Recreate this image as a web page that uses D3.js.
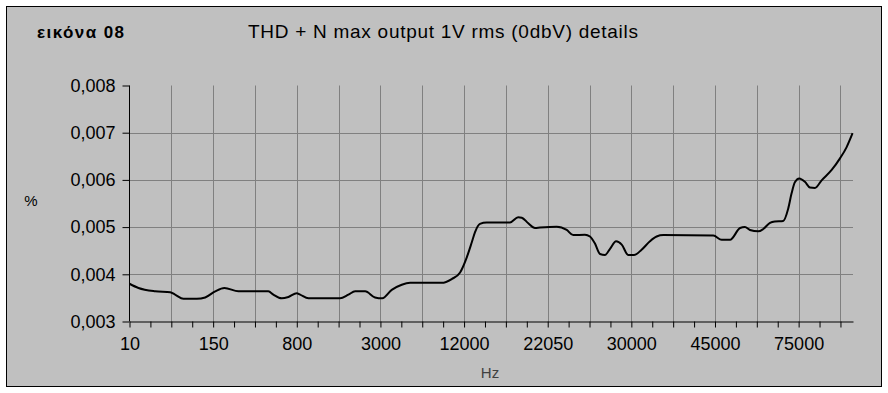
<!DOCTYPE html>
<html>
<head>
<meta charset="utf-8">
<script src="https://cdn.jsdelivr.net/npm/d3@7"></script>
<style>
  body { margin: 0; background: #fff; }
  svg { display: block; font-family: Arial, 'Liberation Sans', sans-serif; }
</style>
</head>
<body>
<svg width="888" height="393"></svg>
<script>
// position along the category axis, in tick units (ticks 0..34)
var xPos = [0, 0.43, 1.23, 1.95, 2.18, 2.58, 3.22, 3.62, 4.10, 4.54, 5.21, 6.64, 6.88, 7.28, 7.60, 8.00,
  8.16, 8.56, 10.07, 10.47, 10.79, 11.27, 11.74, 12.09, 12.54, 13.02, 13.42, 14.93, 15.41, 15.81, 16.13,
  16.37, 16.52, 16.76, 17.08, 18.20, 18.59, 18.76, 19.07, 19.39, 19.63, 20.43, 20.91, 21.22, 21.78, 22.02,
  22.26, 22.50, 22.74, 22.98, 23.27, 23.54, 23.85, 24.13, 24.49, 24.89, 25.21, 25.53, 27.92, 28.32, 28.72,
  29.20, 29.43, 29.67, 30.07, 30.31, 30.63, 30.86, 31.26, 31.50, 31.66, 31.82, 32.03, 32.30, 32.54, 32.78,
  33.10, 33.58, 33.97, 34.29, 34.58];

// THD+N in %
var thd = [0.0038, 0.00371, 0.00364, 0.00362, 0.00357, 0.00348, 0.00348, 0.00351, 0.00364, 0.00371, 0.00364,
  0.00364, 0.00357, 0.00349, 0.00352, 0.0036, 0.00357, 0.00349, 0.00349, 0.00357, 0.00364, 0.00364, 0.00351,
  0.00349, 0.00367, 0.00378, 0.00382, 0.00382, 0.0039, 0.00404, 0.00436, 0.00468, 0.00489, 0.00507, 0.0051,
  0.0051, 0.00521, 0.0052, 0.00508, 0.00498, 0.00499, 0.00501, 0.00494, 0.00483, 0.00484, 0.0048, 0.00465,
  0.00443, 0.00441, 0.00454, 0.0047, 0.00463, 0.00441, 0.00441, 0.00452, 0.0047, 0.0048, 0.00483, 0.00482,
  0.00473, 0.00473, 0.00498, 0.005, 0.00494, 0.00491, 0.00496, 0.00509, 0.00512, 0.00513, 0.00539, 0.00571,
  0.00595, 0.00603, 0.00596, 0.00584, 0.00583, 0.00599, 0.00621, 0.00645, 0.00669, 0.00699];

var xLabels = ['10', '150', '800', '3000', '12000', '22050', '30000', '45000', '75000'];
var yTicks = [0.003, 0.004, 0.005, 0.006, 0.007, 0.008];

var data = xPos.map((p, i) => ({ p: p, v: thd[i] }));

var svg = d3.select('svg');

// chart area
svg.append('rect')
  .attr('x', 6.5).attr('y', 6.5)
  .attr('width', 875).attr('height', 380)
  .attr('fill', '#c0c0c0')
  .attr('stroke', '#000');

var x = d3.scaleLinear().domain([0, 34.6]).range([129.5, 853]);
var y = d3.scaleLinear().domain([0.003, 0.008]).range([321.5, 85.5]);

var tickIdx = d3.range(0, 35);

// gridlines
svg.append('g').selectAll('line')
  .data(tickIdx.filter(t => t > 0 && t % 2 == 0))
  .enter().append('line')
  .attr('x1', d => Math.round(x(d)) + 0.5).attr('x2', d => Math.round(x(d)) + 0.5)
  .attr('y1', y(0.008)).attr('y2', y(0.003))
  .attr('stroke', '#808080');

svg.append('g').selectAll('line')
  .data(yTicks.slice(1, 5))
  .enter().append('line')
  .attr('x1', x(0)).attr('x2', x(34.6))
  .attr('y1', d => Math.round(y(d)) + 0.5).attr('y2', d => Math.round(y(d)) + 0.5)
  .attr('stroke', '#808080');

// y axis
var yAxis = d3.axisLeft(y)
  .tickValues(yTicks)
  .tickSize(7)
  .tickPadding(7)
  .tickFormat(d => d3.format('.3f')(d).replace('.', ','));
var gy = svg.append('g')
  .attr('transform', 'translate(129.5,0)')
  .call(yAxis);
gy.select('.domain').attr('d', 'M0,' + y(0.008) + 'V' + y(0.003));
gy.selectAll('text').attr('font-size', 18).attr('fill', '#000').attr('font-family', null);

// x axis
var xAxis = d3.axisBottom(x)
  .tickValues(tickIdx)
  .tickSize(6)
  .tickSizeOuter(0)
  .tickPadding(10)
  .tickFormat(d => d % 4 == 0 ? xLabels[d / 4] : '');
var gx = svg.append('g')
  .attr('transform', 'translate(0,321.5)')
  .call(xAxis);
gx.selectAll('text').attr('font-size', 18).attr('fill', '#000').attr('font-family', null);

// the curve
var line = d3.line()
  .x(d => x(d.p))
  .y(d => y(d.v))
  .curve(d3.curveMonotoneX);

svg.append('path')
  .datum(data)
  .attr('d', line)
  .attr('fill', 'none')
  .attr('stroke', '#000')
  .attr('stroke-width', 2);

// titles
svg.append('text')
  .attr('x', 37).attr('y', 38)
  .attr('font-size', 17)
  .attr('font-weight', 'bold')
  .attr('textLength', 87)
  .attr('lengthAdjust', 'spacing')
  .text('εικόνα 08');

svg.append('text')
  .attr('x', 248).attr('y', 38)
  .attr('font-size', 19)
  .attr('textLength', 390)
  .attr('lengthAdjust', 'spacing')
  .text('THD + N max output 1V rms (0dbV) details');

svg.append('text')
  .attr('x', 31).attr('y', 206)
  .attr('text-anchor', 'middle')
  .attr('font-size', 15)
  .text('%');

svg.append('text')
  .attr('x', 490).attr('y', 378)
  .attr('text-anchor', 'middle')
  .attr('font-size', 15)
  .attr('fill', '#404040')
  .text('Hz');
</script>
</body>
</html>
